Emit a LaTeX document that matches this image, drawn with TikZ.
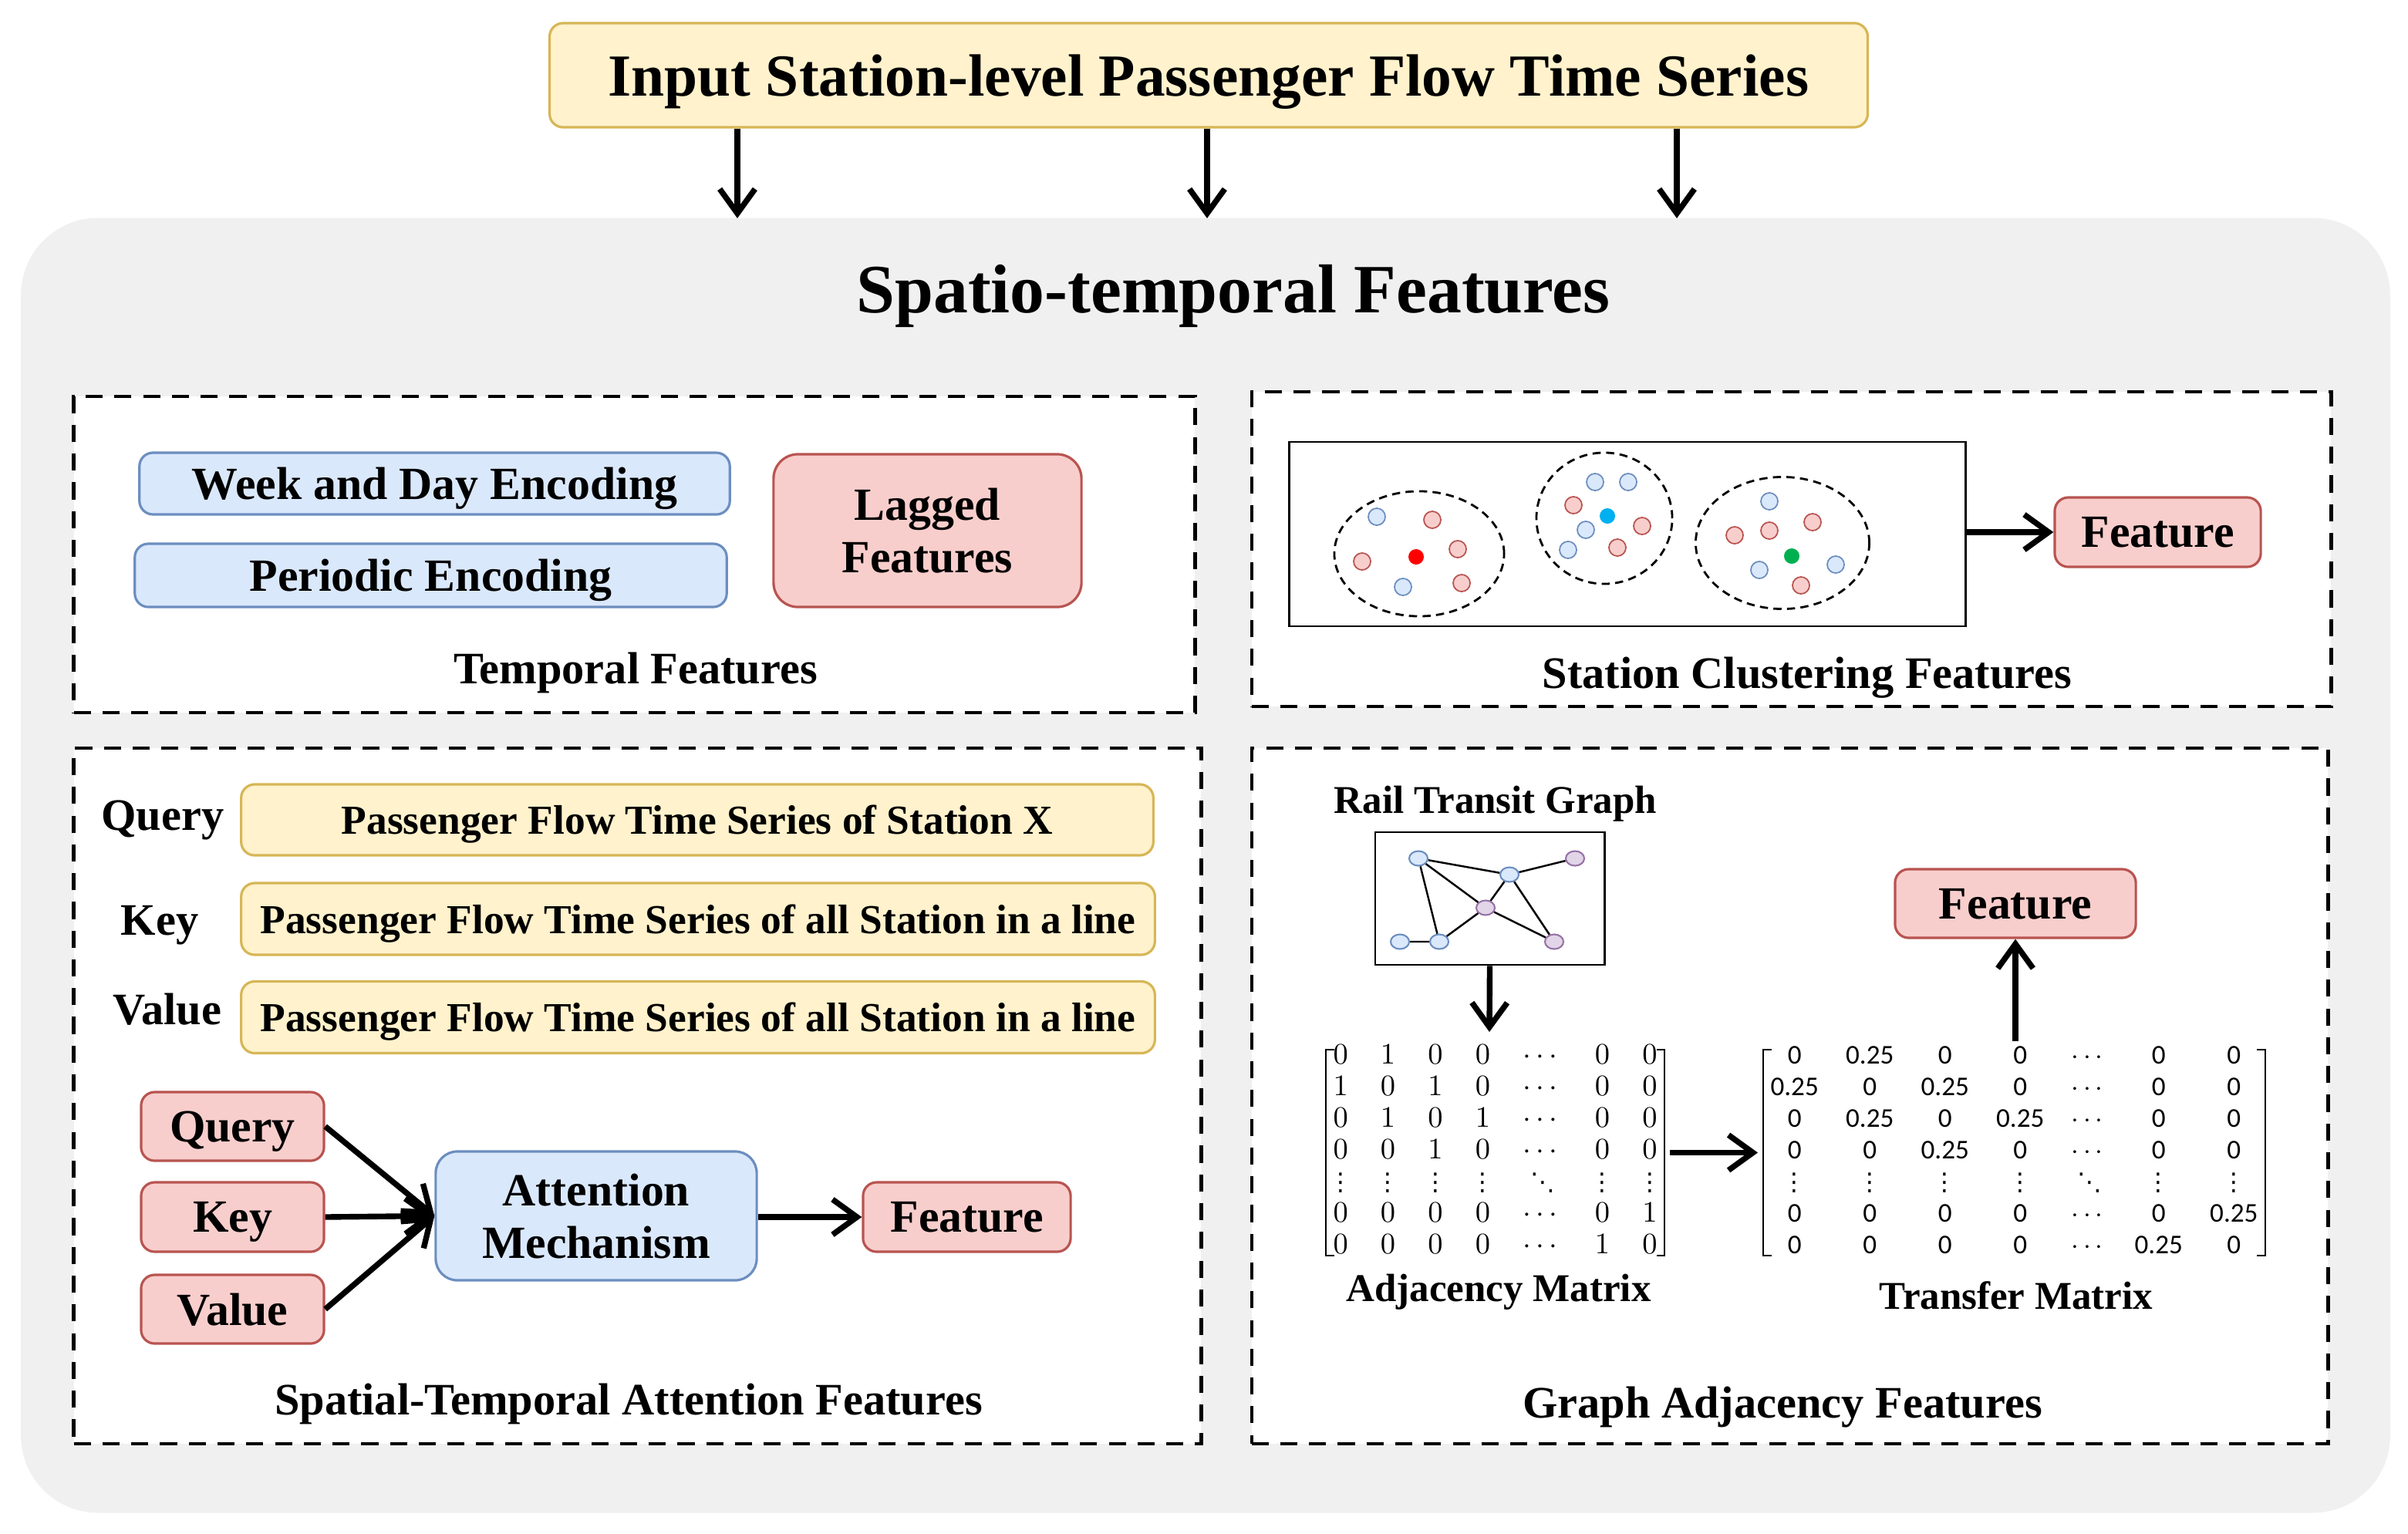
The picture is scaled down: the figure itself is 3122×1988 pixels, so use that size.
\documentclass[tikz,border=0pt]{standalone}
\usepackage{amsmath}
\usepackage{fontspec}
\setmainfont{Liberation Serif}
\newfontfamily\carlito{Carlito}
\newfontfamily\dejavu{DejaVu Sans}
\usetikzlibrary{arrows.meta,positioning,shapes.geometric}

\definecolor{yfill}{HTML}{FFF2CC}
\definecolor{ydraw}{HTML}{D6B656}
\definecolor{bfill}{HTML}{DAE8FC}
\definecolor{bdraw}{HTML}{6C8EBF}
\definecolor{rfill}{HTML}{F8CECC}
\definecolor{rdraw}{HTML}{B85450}
\definecolor{pfill}{HTML}{E1D5E7}
\definecolor{pdraw}{HTML}{9673A6}
\definecolor{bggray}{HTML}{F0F0F0}
\definecolor{cyandot}{HTML}{00B0F0}
\definecolor{greendot}{HTML}{00B050}

% compact dots for the matrices
\newcommand\vdt{\makebox[0pt]{\dejavu\fontsize{9}{9}\selectfont ⋮}}
\newcommand\ddt{\makebox[0pt]{\dejavu\fontsize{9}{9}\selectfont ⋱}}

\begin{document}
\begin{tikzpicture}[x=0.01cm, y=-0.01cm,
    ybox/.style={draw=ydraw, fill=yfill, line width=0.9pt, rounded corners=5pt, inner sep=0pt},
    bbox/.style={draw=bdraw, fill=bfill, line width=0.9pt, rounded corners=5pt, inner sep=0pt, align=center},
    rbox/.style={draw=rdraw, fill=rfill, line width=0.9pt, rounded corners=5pt, inner sep=0pt, align=center},
    dbox/.style={draw, fill=white, line width=1.2pt, dash pattern=on 6.3pt off 4.3pt, inner sep=0pt},
    cluster/.style={ellipse, draw, line width=0.8pt, dash pattern=on 3pt off 2pt, inner sep=0pt},
    bd/.style={circle, draw=bdraw, fill=bfill, line width=0.5pt, minimum size=0.22cm, inner sep=0pt},
    rd/.style={circle, draw=rdraw, fill=rfill, line width=0.5pt, minimum size=0.22cm, inner sep=0pt},
    gb/.style={ellipse, draw=bdraw, fill=bfill, line width=0.6pt, minimum width=0.24cm, minimum height=0.19cm, inner sep=0pt},
    gp/.style={ellipse, draw=pdraw, fill=pfill, line width=0.6pt, minimum width=0.24cm, minimum height=0.19cm, inner sep=0pt},
    lbl/.style={font=\fontsize{16.6}{20}\selectfont\bfseries, text depth=0pt},
    small/.style={font=\fontsize{14.5}{17}\selectfont\bfseries, text depth=0pt},
    txt/.style={font=\fontsize{17}{19.3}\selectfont\bfseries, text depth=0pt},
    seq/.style={font=\fontsize{15.2}{18}\selectfont\bfseries, text depth=0pt},
    brk/.style={line width=0.7pt},
    ar/.style={line width=2.1pt, -{Straight Barb[length=9pt, width=13pt]}}]

    \useasboundingbox (0,0) rectangle (3122,1988);

    % input
    \node[ybox, minimum width=17.08cm, minimum height=1.35cm, text depth=0pt,
          font=\fontsize{22}{26}\selectfont\bfseries] (inp) at (1567,97.5)
          {Input Station-level Passenger Flow Time Series};

    \node[fill=bggray, rounded corners=1cm, minimum width=30.7cm, minimum height=16.78cm,
          inner sep=0pt] (bg) at (1563,1122) {};

    \coordinate (a1) at (956,283);
    \coordinate (a2) at (1565,283);
    \coordinate (a3) at (2174,283);
    \draw[ar] (inp.south -| a1) -- (a1);
    \draw[ar] (inp.south -| a2) -- (a2);
    \draw[ar] (inp.south -| a3) -- (a3);

    \node[font=\fontsize{25.5}{30}\selectfont\bfseries, text depth=0pt] (hdr) at (1599,374) {Spatio-temporal Features};

    % four panels
    \node[dbox, minimum width=14.53cm, minimum height=4.10cm] (tmp) at (822.5,719) {};
    \node[dbox, minimum width=13.99cm, minimum height=4.08cm] (clu) at (2322.5,712) {};
    \node[dbox, minimum width=14.61cm, minimum height=9.02cm] (att) at (826.5,1421) {};
    \node[dbox, minimum width=13.95cm, minimum height=9.02cm] (gra) at (2320.5,1421) {};

    % temporal
    \node[bbox, txt, minimum width=7.65cm, minimum height=0.8cm] (week) at (563.5,627) {Week and Day Encoding};
    \node[bbox, txt, minimum width=7.67cm, minimum height=0.82cm] (peri) at (558.5,746) {Periodic Encoding};
    \node[rbox, txt, rounded corners=9pt, minimum width=3.99cm, minimum height=1.98cm] (lag) at (1202.5,688) {Lagged\\Features};
    \node[lbl] (tlab) at (824,866) {Temporal Features};

    % clustering
    \node[draw, line width=0.8pt, fill=white, minimum width=8.76cm, minimum height=2.39cm, inner sep=0pt] (map) at (2110,692.5) {};
    \node[cluster, minimum width=2.2cm, minimum height=1.62cm] (cl1) at (1840,718) {};
    \node[cluster, minimum width=1.76cm, minimum height=1.70cm] (cl2) at (2080,672) {};
    \node[cluster, minimum width=2.25cm, minimum height=1.71cm] (cl3) at (2311,704) {};
    \foreach \x/\y [count=\i] in {1785/670, 1819/761, 2068/625, 2111/625, 2056/687, 2033/713, 2294/650, 2380/732, 2281/739}
        \node[bd] (bd\i) at (\x,\y) {};
    \foreach \x/\y [count=\i] in {1857/674, 1890/712, 1766/728, 1895/756, 2040/655, 2129/682, 2097/710, 2350/677, 2294/688, 2249/694, 2335/759}
        \node[rd] (rd\i) at (\x,\y) {};
    \node[circle, fill=red, minimum size=0.2cm, inner sep=0pt] (cen1) at (1836,722) {};
    \node[circle, fill=cyandot, minimum size=0.2cm, inner sep=0pt] (cen2) at (2084,669) {};
    \node[circle, fill=greendot, minimum size=0.2cm, inner sep=0pt] (cen3) at (2323,721) {};
    \node[rbox, txt, minimum width=2.67cm, minimum height=0.9cm] (feat1) at (2797.5,690) {Feature};
    \draw[ar] (map.east |- feat1.west) -- (feat1.west);
    \node[lbl] (clab) at (2343,872) {Station Clustering Features};

    % attention
    \node[lbl] (qlab) at (211,1057) {Query};
    \node[lbl] (klab) at (207,1193) {Key};
    \node[lbl] (vlab) at (217,1308) {Value};
    \node[ybox, seq, minimum width=11.82cm, minimum height=0.92cm] (qs) at (904,1063) {Passenger Flow Time Series of Station X};
    \node[ybox, seq, minimum width=11.84cm, minimum height=0.93cm] (ks) at (905,1191.5) {Passenger Flow Time Series of all Station in a line};
    \node[ybox, seq, minimum width=11.84cm, minimum height=0.93cm] (vs) at (905,1319) {Passenger Flow Time Series of all Station in a line};
    \node[rbox, txt, minimum width=2.37cm, minimum height=0.89cm] (qr) at (301.5,1460.5) {Query};
    \node[rbox, txt, minimum width=2.37cm, minimum height=0.90cm] (kr) at (301.5,1578) {Key};
    \node[rbox, txt, minimum width=2.37cm, minimum height=0.89cm] (vr) at (301.5,1697.5) {Value};
    \node[bbox, txt, rounded corners=8pt, minimum width=4.16cm, minimum height=1.67cm] (attn) at (773,1576.5) {Attention\\Mechanism};
    \node[rbox, txt, minimum width=2.69cm, minimum height=0.90cm] (featA) at (1253.5,1578) {Feature};
    \draw[ar] (qr.east) -- (attn.west);
    \draw[ar] (kr.east) -- (attn.west);
    \draw[ar] (vr.east) -- (attn.west);
    \draw[ar] (attn.east |- featA.west) -- (featA.west);
    \node[lbl] (alab) at (815,1814) {Spatial-Temporal Attention Features};

    % graph adjacency
    \node[small] (rlab) at (1939,1037) {Rail Transit Graph};
    \node[draw, line width=0.8pt, fill=white, minimum width=2.97cm, minimum height=1.72cm, inner sep=0pt] (rail) at (1931.5,1165) {};
    \node[gb] (g1) at (1839,1113) {};
    \node[gb] (g2) at (1957,1134) {};
    \node[gp] (g3) at (2042,1113) {};
    \node[gp] (g4) at (1926,1177) {};
    \node[gb] (g5) at (1866,1221) {};
    \node[gb] (g6) at (1815,1221) {};
    \node[gp] (g7) at (2015,1221) {};
    \draw[line width=0.7pt] (g1) -- (g2) (g1) -- (g4) (g1) -- (g5) (g2) -- (g3)
         (g2) -- (g4) (g2) -- (g7) (g4) -- (g5) (g4) -- (g7) (g6) -- (g5);

    \node[inner sep=0pt, font=\fontsize{11}{11.66}\selectfont] (adj) at (1938.5,1494.5)
        {\setlength\arraycolsep{6pt}%
         $\begin{array}{@{\hspace{2.5pt}}ccccccc@{\hspace{2.5pt}}}
         0&1&0&0&\cdots&0&0\\
         1&0&1&0&\cdots&0&0\\
         0&1&0&1&\cdots&0&0\\
         0&0&1&0&\cdots&0&0\\
         \vdt&\vdt&\vdt&\vdt&\ddt&\vdt&\vdt\\
         0&0&0&0&\cdots&0&1\\
         0&0&0&0&\cdots&1&0
         \end{array}$};
    \node[inner sep=0pt, font=\fontsize{10}{11.66}\selectfont\carlito] (trans) at (2611.5,1494.5)
        {\setlength\tabcolsep{5pt}%
         \begin{tabular}{@{\hspace{2.5pt}}ccccccc@{\hspace{2.5pt}}}
         0&0.25&0&0&$\cdots$&0&0\\
         0.25&0&0.25&0&$\cdots$&0&0\\
         0&0.25&0&0.25&$\cdots$&0&0\\
         0&0&0.25&0&$\cdots$&0&0\\
         \vdt&\vdt&\vdt&\vdt&\ddt&\vdt&\vdt\\
         0&0&0&0&$\cdots$&0&0.25\\
         0&0&0&0&$\cdots$&0.25&0
         \end{tabular}};
    % brackets
    \draw[brk] ([xshift=3pt, yshift=-3pt]adj.north west) -- ([yshift=-3pt]adj.north west)
        -- ([yshift=3pt]adj.south west) -- ([xshift=3pt, yshift=3pt]adj.south west);
    \draw[brk] ([xshift=-3pt, yshift=-3pt]adj.north east) -- ([yshift=-3pt]adj.north east)
        -- ([yshift=3pt]adj.south east) -- ([xshift=-3pt, yshift=3pt]adj.south east);
    \draw[brk] ([xshift=3pt, yshift=-3pt]trans.north west) -- ([yshift=-3pt]trans.north west)
        -- ([yshift=3pt]trans.south west) -- ([xshift=3pt, yshift=3pt]trans.south west);
    \draw[brk] ([xshift=-3pt, yshift=-3pt]trans.north east) -- ([yshift=-3pt]trans.north east)
        -- ([yshift=3pt]trans.south east) -- ([xshift=-3pt, yshift=3pt]trans.south east);

    \coordinate (a4) at (1931,1338);
    \draw[ar] (rail.south) -- (a4);
    \draw[ar] ([xshift=2pt]adj.east) -- ([xshift=-2pt]trans.west);
    \node[rbox, txt, minimum width=3.12cm, minimum height=0.89cm] (feat2) at (2613,1171.5) {Feature};
    \draw[ar] (trans.north -| feat2.south) -- (feat2.south);
    \node[small] (mlab1) at (1943,1670) {Adjacency Matrix};
    \node[small] (mlab2) at (2614,1680) {Transfer Matrix};
    \node[lbl] (glab) at (2311,1818) {Graph Adjacency Features};
\end{tikzpicture}
\end{document}
